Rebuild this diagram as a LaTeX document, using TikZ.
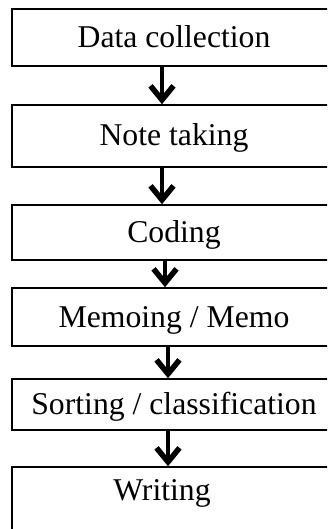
\documentclass[tikz,border=0pt]{standalone}
\usepackage{fontspec}
\setmainfont{Liberation Serif}
\usetikzlibrary{arrows.meta}

\begin{document}
\begin{tikzpicture}[x=1pt,y=-1pt,
    stage/.style={draw=black, line width=1.6pt, minimum width=324pt, inner sep=0pt,
      font=\fontsize{31.7}{38}\selectfont, text height=20pt, text depth=0pt},
    flow/.style={line width=4pt, -{Straight Barb[length=14pt,width=23pt,line width=5.5pt]}}]
  \useasboundingbox (0,0) rectangle (327,529);
  \clip (0,0) rectangle (327,529);
  % the six stages, top to bottom
  \node [stage, minimum height=57pt] (collect) at (174,37.5) {Data collection};
  \node [stage, minimum height=62pt] (notes) at (174,136) {Note taking};
  \node [stage, minimum height=55pt] (coding) at (174,232.5) {Coding};
  \node [stage, minimum height=58pt] (memo) at (174,317) {Memoing / Memo};
  \node [stage, minimum height=51pt] (sort) at (174,404.5) {Sorting / classification};
  \node [stage, minimum height=70pt, text depth=24pt] (write) at (174,502) {\hspace*{-24pt}Writing};
  % arrows between them
  \draw [flow] ([xshift=-12pt]collect.south) -- ([xshift=-12pt]notes.north);
  \draw [flow] ([xshift=-12pt]notes.south) -- ([xshift=-12pt]coding.north);
  \draw [flow] ([xshift=-9pt]coding.south) -- ([xshift=-9pt]memo.north);
  \draw [flow] ([xshift=-6pt]memo.south) -- ([xshift=-6pt]sort.north);
  \draw [flow] ([xshift=-6pt]sort.south) -- ([xshift=-6pt]write.north);
\end{tikzpicture}
\end{document}
